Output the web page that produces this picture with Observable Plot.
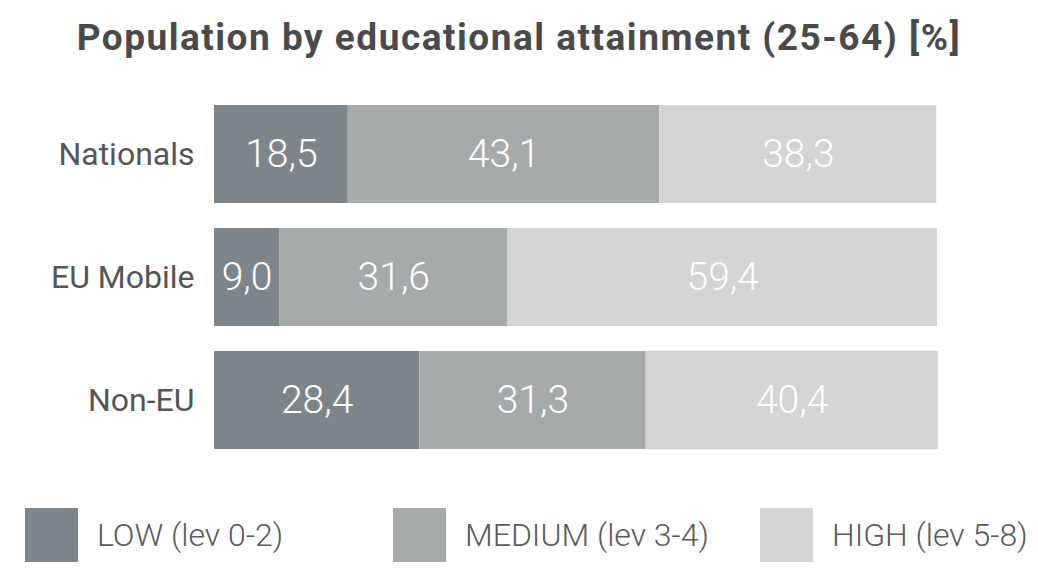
<!DOCTYPE html>
<html>
<head>
<meta charset="utf-8">
<script src="https://cdn.jsdelivr.net/npm/d3@7"></script>
<script src="https://cdn.jsdelivr.net/npm/@observablehq/plot@0.6"></script>
<style>
  body { margin: 0; background: #fff; font-family: Roboto, "Noto Sans", sans-serif; }
  #title { height: 80px; box-sizing: border-box; padding-top: 16px; text-align: center; font-weight: 700; font-size: 37px; letter-spacing: 1.5px; color: #4a4a4a; }
  #legend { height: 88px; position: relative; }
  .item { position: absolute; display: flex; align-items: center; top: 28px; }
  .sw { width: 53px; height: 54px; margin-right: 19px; }
  .lab { font-size: 32px; color: #5a5a5a; font-weight: 300; }
  svg { display: block; }
</style>
</head>
<body>
<div id="title">Population by educational attainment (25-64) [%]</div>
<div id="chart"></div>
<div id="legend"></div>
<script>
const categories = ["Nationals", "EU Mobile", "Non-EU"];
const levels = ["LOW (lev 0-2)", "MEDIUM (lev 3-4)", "HIGH (lev 5-8)"];
const low = [18.5, 9.0, 28.4];
const medium = [43.1, 31.6, 31.3];
const high = [38.3, 59.4, 40.4];
const colors = ["#7e858a", "#a6aaab", "#d4d4d4"];

const series = [low, medium, high];
const rows = [];
levels.forEach((lev, j) => categories.forEach((c, i) => rows.push({category: c, level: lev, value: series[j][i]})));
const fmt = v => d3.format(".1f")(v).replace(".", ",");

const plot = Plot.plot({
  width: 1038,
  height: 400,
  marginLeft: 214,
  marginRight: 101,
  marginTop: 0,
  marginBottom: 5,
  x: {domain: [0, 100], axis: null},
  y: {domain: categories, padding: 0.2, label: null},
  color: {domain: levels, range: colors},
  style: {fontFamily: "Roboto, sans-serif"},
  marks: [
    Plot.barX(rows, Plot.stackX({x: "value", y: "category", fill: "level", order: levels})),
    Plot.text(rows, Plot.stackX({x: "value", y: "category", z: "level", order: levels, text: d => fmt(d.value), fill: "white", fontSize: 39, fontWeight: 300})),
    Plot.axisY({tickSize: 0, tickPadding: 20, fontSize: 32, color: "#555", label: null})
  ]
});
document.getElementById("chart").appendChild(plot);

const leg = document.getElementById("legend");
const lx = [25, 393, 760];
levels.forEach((lev, j) => {
  const it = document.createElement("div");
  it.className = "item";
  it.style.left = lx[j] + "px";
  it.innerHTML = `<div class="sw" style="background:${colors[j]}"></div><span class="lab">${lev}</span>`;
  leg.appendChild(it);
});
</script>
</body>
</html>
